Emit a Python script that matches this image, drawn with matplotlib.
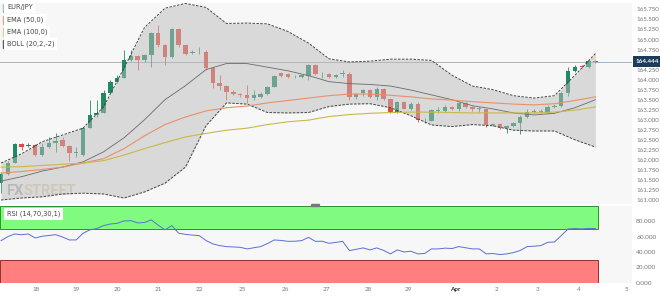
import numpy as np
import matplotlib.pyplot as plt
from matplotlib.patches import Rectangle
from matplotlib.ticker import FormatStrFormatter

# EUR/JPY 4H candles
opens = [161.42, 161.66, 161.93, 162.39, 162.35, 162.37, 162.12, 162.31, 162.43, 162.50,
         162.35, 162.18, 162.12, 162.79, 163.12, 163.18, 163.67, 163.95, 164.05, 164.49,
         164.59, 164.49, 164.61, 165.15, 164.86, 164.57, 165.25, 164.86, 164.66, 164.68,
         164.70, 164.28, 163.91, 163.84, 163.70, 163.64, 163.62, 163.53, 163.57, 163.64,
         163.82, 164.16, 164.14, 164.06, 164.06, 164.09, 164.36, 164.14, 164.14, 164.06,
         164.15, 164.14, 163.56, 163.66, 163.74, 163.56, 163.76, 163.52, 163.20, 163.43,
         163.28, 163.39, 162.99, 162.98, 163.22, 163.23, 163.31, 163.26, 163.41, 163.33,
         163.27, 163.26, 162.86, 162.89, 162.79, 162.84, 162.93, 163.06, 163.20, 163.22,
         163.20, 163.33, 163.34, 163.67, 164.22, 164.33, 164.32, 164.47]
closes = [161.66, 161.93, 162.39, 162.33, 162.37, 162.12, 162.31, 162.43, 162.48, 162.35,
          162.16, 162.20, 162.79, 163.12, 163.18, 163.67, 163.95, 164.05, 164.49, 164.59,
          164.49, 164.61, 165.15, 164.86, 164.57, 165.25, 164.86, 164.65, 164.68, 164.70,
          164.28, 163.91, 163.84, 163.70, 163.63, 163.62, 163.53, 163.62, 163.64, 163.82,
          164.09, 164.09, 164.06, 164.07, 164.11, 164.36, 164.14, 164.15, 164.06, 164.12,
          164.16, 163.56, 163.64, 163.74, 163.56, 163.76, 163.52, 163.20, 163.43, 163.28,
          163.39, 162.99, 163.00, 163.24, 163.23, 163.31, 163.26, 163.41, 163.33, 163.26,
          163.28, 162.87, 162.89, 162.79, 162.84, 162.93, 163.06, 163.20, 163.21, 163.20,
          163.33, 163.34, 163.67, 164.22, 164.32, 164.31, 164.46, 164.44]
highs = [161.70, 161.98, 162.41, 162.43, 162.41, 162.39, 162.41, 162.58, 162.66, 162.58,
         162.37, 162.33, 162.83, 163.49, 163.49, 163.74, 163.99, 164.11, 164.74, 164.74,
         164.61, 164.65, 165.19, 165.36, 164.90, 165.28, 165.28, 164.90, 164.74, 164.82,
         164.74, 164.32, 164.11, 163.87, 163.74, 163.67, 163.87, 163.74, 163.70, 163.84,
         164.11, 164.20, 164.16, 164.11, 164.14, 164.40, 164.38, 164.20, 164.16, 164.15,
         164.24, 164.20, 163.66, 163.76, 163.76, 163.82, 163.78, 163.55, 163.47, 163.46,
         163.43, 163.45, 163.04, 163.28, 163.33, 163.36, 163.34, 163.45, 163.43, 163.34,
         163.33, 163.28, 162.93, 162.91, 162.87, 162.95, 163.12, 163.28, 163.26, 163.26,
         163.36, 163.39, 163.70, 164.32, 164.36, 164.36, 164.50, 164.49]
lows = [161.17, 161.62, 161.91, 162.25, 162.31, 162.10, 162.10, 162.29, 162.20, 162.33,
        161.96, 162.08, 162.10, 162.79, 163.08, 163.16, 163.66, 163.91, 164.03, 164.47,
        164.24, 164.45, 164.32, 164.82, 164.36, 164.55, 164.82, 164.61, 164.65, 164.64,
        164.24, 163.78, 163.74, 163.49, 163.62, 163.57, 163.41, 163.49, 163.53, 163.62,
        163.81, 164.07, 164.03, 164.03, 164.03, 163.99, 164.11, 164.03, 164.03, 164.03,
        164.07, 163.49, 163.52, 163.60, 163.54, 163.49, 163.49, 163.18, 163.18, 163.26,
        163.24, 162.95, 162.93, 162.96, 163.16, 163.20, 163.24, 163.23, 163.30, 163.23,
        163.20, 162.83, 162.84, 162.77, 162.66, 162.81, 162.64, 163.04, 163.16, 163.16,
        163.16, 163.30, 163.32, 163.60, 164.20, 164.28, 164.28, 164.42]

# indicator lines, sampled every third candle
ind_idx = [0, 3, 6, 9, 12, 15, 18, 21, 24, 27, 30, 33, 36, 39, 42,
           45, 48, 51, 54, 57, 60, 63, 66, 69, 72, 75, 78, 81, 84, 87]
boll_up = [161.92, 162.15, 162.45, 162.62, 162.79, 163.32, 164.29, 165.30, 165.78, 165.90,
           165.80, 165.40, 165.41, 165.39, 165.20, 164.91, 164.52, 164.44, 164.46, 164.51,
           164.51, 164.48, 164.11, 163.84, 163.75, 163.60, 163.54, 163.60, 164.11, 164.65]
boll_mid = [161.47, 161.58, 161.72, 161.82, 161.95, 162.20, 162.55, 163.00, 163.50, 163.85,
            164.25, 164.40, 164.40, 164.31, 164.22, 164.10, 163.95, 163.90, 163.88, 163.84,
            163.74, 163.62, 163.50, 163.35, 163.27, 163.17, 163.12, 163.16, 163.30, 163.50]
boll_lo = [161.00, 161.05, 161.08, 161.15, 161.17, 161.15, 161.05, 161.20, 161.42, 161.82,
           162.85, 163.42, 163.39, 163.18, 163.17, 163.18, 163.33, 163.39, 163.40, 163.30,
           163.10, 162.87, 162.83, 162.88, 162.85, 162.74, 162.72, 162.72, 162.50, 162.32]
ema50 = [161.67, 161.71, 161.76, 161.82, 161.92, 162.03, 162.28, 162.60, 162.88, 163.07,
         163.22, 163.30, 163.34, 163.42, 163.48, 163.54, 163.60, 163.64, 163.64, 163.61,
         163.57, 163.52, 163.49, 163.45, 163.42, 163.39, 163.37, 163.40, 163.48, 163.57]
ema100 = [161.82, 161.83, 161.86, 161.89, 161.92, 161.98, 162.12, 162.28, 162.43, 162.57,
          162.66, 162.74, 162.79, 162.88, 162.95, 162.99, 163.08, 163.13, 163.16, 163.18,
          163.19, 163.19, 163.18, 163.17, 163.17, 163.17, 163.17, 163.19, 163.24, 163.32]

rsi = [54.8, 60.0, 63.5, 62.5, 63.5, 58.3, 60.5, 61.5, 62.6, 59.5,
       55.7, 55.7, 64.4, 68.8, 70.5, 74.4, 76.5, 77.4, 80.5, 80.9,
       77.9, 78.5, 81.9, 75.0, 68.8, 74.4, 64.4, 63.0, 62.0, 61.4,
       55.0, 50.5, 48.3, 47.0, 46.5, 46.1, 44.0, 45.5, 47.0, 51.0,
       55.7, 55.0, 53.9, 54.0, 54.8, 59.1, 53.9, 54.0, 51.3, 52.5,
       53.9, 41.8, 43.5, 45.3, 42.7, 45.3, 42.0, 37.5, 42.7, 40.0,
       41.0, 37.5, 38.0, 44.0, 44.0, 45.0, 44.5, 47.0, 45.5, 44.0,
       44.0, 37.5, 38.0, 36.6, 37.5, 39.2, 42.0, 47.0, 47.5, 48.3,
       52.6, 53.0, 61.4, 70.1, 70.5, 70.1, 70.8, 70.5]

last_price = 164.444
day_labels = ['18', '19', '20', '21', '22', '25', '26', '27', '28', '29', 'Apr', '2', '3', '4', '5']
day_pos = [5.1, 11.0, 17.0, 23.0, 29.0, 35.4, 41.7, 47.7, 53.7, 59.6, 66.5, 72.5, 78.6, 84.5, 91.5]

W, H = 660, 298
fig = plt.figure(figsize=(W / 100, H / 100), dpi=100)
fig.patch.set_facecolor('white')


def px_axes(x0, y0, x1, y1):
    return fig.add_axes([x0 / W, 1 - y1 / H, (x1 - x0) / W, (y1 - y0) / H])


ax = px_axes(0, 3, 632, 204)
rax = px_axes(0, 206, 632, 283)
xlim = (-0.15, 92.35)

# ---- price panel
o, c, h, l = map(np.array, (opens, closes, highs, lows))
x = np.arange(len(o))
up = c >= o
cols = np.where(up, '#1f8a64', '#e0493c')
ax.vlines(x, l, h, colors=cols, lw=0.6, zorder=2)
lo = np.minimum(o, c)
ht = np.maximum(np.abs(c - o), 0.012)
ax.bar(x, ht, bottom=lo, width=0.64, color=cols, zorder=2)

ax.fill_between(ind_idx, boll_lo, boll_up, color='#bdbdbd', alpha=0.5, lw=0, zorder=3)
ax.plot(ind_idx, boll_up, color='#444444', lw=0.7, ls=(0, (2.5, 1.5)), zorder=4)
ax.plot(ind_idx, boll_lo, color='#444444', lw=0.7, ls=(0, (2.5, 1.5)), zorder=4)
ax.plot(ind_idx, boll_mid, color='#6a6a6a', lw=0.6, zorder=4)
ax.plot(ind_idx, ema50, color='#e8906a', lw=0.8, zorder=4)
ax.plot(ind_idx, ema100, color='#c9b84a', lw=0.8, zorder=4)
ax.axhline(last_price, color='#a4b2c2', lw=0.7, zorder=1)

ax.set_xlim(*xlim)
ax.set_ylim(160.90, 165.91)
ax.set_facecolor('#f7f7f7')
ax.yaxis.tick_right()
ax.set_yticks(np.arange(161.0, 165.76, 0.25))
ax.yaxis.set_major_formatter(FormatStrFormatter('%.3f'))
ax.tick_params(axis='y', length=0, colors='#777777', pad=3)
for t in ax.get_yticklabels():
    t.set_fontfamily('Lato')
    t.set_fontsize(4.4)
ax.set_xticks([])
for s in ax.spines.values():
    s.set_visible(False)

ax.text(0.8, 161.12, 'FX', fontsize=10.5, fontweight='bold', color='#b4b4b4', zorder=1,
        family='Roboto')
ax.text(3.25, 161.12, 'STREET', fontsize=10.5, fontweight='bold', color='#e2d3b8', zorder=1,
        family='Roboto')

# ---- RSI panel
rax.add_patch(Rectangle((xlim[0], 70), 87.4 - xlim[0], 30, fc='#80fb80', ec='#2f8f2f', lw=0.7))
rax.add_patch(Rectangle((xlim[0], 0), 87.4 - xlim[0], 30, fc='#ff7f7f', ec='#8f3030', lw=0.7))
rax.plot(x, rsi, color='#5a6fd6', lw=0.7, zorder=3)
rax.set_xlim(*xlim)
rax.set_ylim(-0.5, 100)
rax.set_facecolor('#f7f7f7')
rax.yaxis.tick_right()
rax.set_yticks([0, 20, 40, 60, 80])
rax.yaxis.set_major_formatter(FormatStrFormatter('%.3f'))
rax.tick_params(axis='y', length=0, colors='#777777', pad=3)
rax.set_xticks(day_pos)
rax.set_xticklabels(day_labels)
rax.tick_params(axis='x', length=0, colors='#777777', pad=3)
for t in rax.get_yticklabels() + rax.get_xticklabels():
    t.set_fontfamily('Lato')
    t.set_fontsize(4.6)
    if t.get_text() == 'Apr':
        t.set_fontweight('bold')
        t.set_color('#333333')
for s in rax.spines.values():
    s.set_visible(False)


# ---- labels
def tag(xp, yp, text, bar):
    fig.text(xp / W, 1 - yp / H, text, fontsize=4.8, color='#444444', va='center', ha='left',
             bbox=dict(boxstyle='square,pad=0.4', fc='white', ec='none'))
    if bar:
        fig.add_artist(Rectangle(((xp - 4.5) / W, 1 - (yp + 4) / H), 1.3 / W, 8 / H,
                                 color=bar, transform=fig.transFigure))


tag(7, 7.5, 'EUR/JPY', '#9cc0cc')
tag(7, 20, 'EMA (50,0)', '#f0a080')
tag(7, 32, 'EMA (100,0)', '#ddd08a')
tag(7, 44, 'BOLL (20,2,-2)', '#555555')
tag(7, 214, 'RSI (14,70,30,1)', None)

fig.text(636 / W, 1 - 61.5 / H, '164.444', fontsize=4.6, fontweight='bold', color='white',
         family='Lato', va='center', ha='left', zorder=10,
         bbox=dict(boxstyle='square,pad=0.45', fc='#1d3b5c', ec='none'))
fig.add_artist(Rectangle((311 / W, 1 - 205.5 / H), 8 / W, 2 / H, color='#777777',
                         transform=fig.transFigure))

fig.savefig('out.png', dpi=100, facecolor='white')
